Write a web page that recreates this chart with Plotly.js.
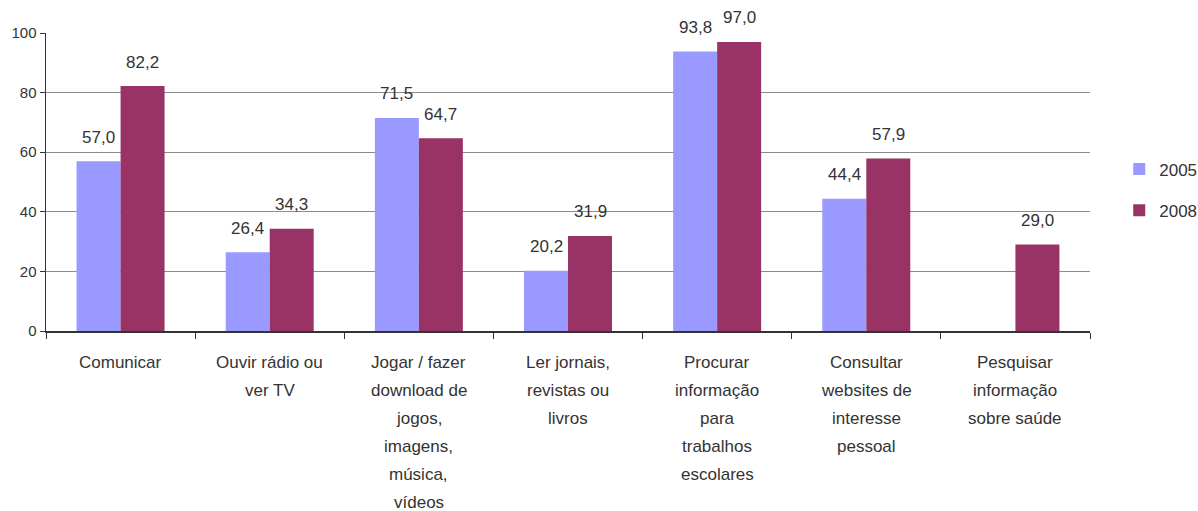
<!DOCTYPE html>
<html>
<head>
<meta charset="utf-8">
<script src="https://cdn.plot.ly/plotly-3.0.1.min.js"></script>
<style>html,body{margin:0;padding:0;background:#fff;}#chart{width:1198px;height:511px;}</style>
</head>
<body>
<div id="chart"></div>
<script>
const categories = [
  "Comunicar",
  "Ouvir rádio ou<br>ver TV",
  "Jogar / fazer<br>download de<br>jogos,<br>imagens,<br>música,<br>vídeos",
  "Ler jornais,<br>revistas ou<br>livros",
  "Procurar<br>informação<br>para<br>trabalhos<br>escolares",
  "Consultar<br>websites de<br>interesse<br>pessoal",
  "Pesquisar<br>informação<br>sobre saúde"
];
const keys = ["c0","c1","c2","c3","c4","c5","c6"];
const values2005 = [57.0, 26.4, 71.5, 20.2, 93.8, 44.4, null];
const values2008 = [82.2, 34.3, 64.7, 31.9, 97.0, 57.9, 29.0];
const yTicks = [0, 20, 40, 60, 80, 100];

const fmt = v => v.toFixed(1).replace('.', ',');
const FONT = "Liberation Sans, Arial, sans-serif";
const TXT = "#333333";

const traces = [
  {type:'bar', name:'2005', x:keys, y:values2005, marker:{color:'#9999FF'}, legendgroup:'a', hoverinfo:'none'},
  {type:'bar', name:'2008', x:keys, y:values2008, marker:{color:'#993366'}, legendgroup:'b', hoverinfo:'none'}
];

const annotations = [];
[[values2005, -22], [values2008, 22]].forEach(([vals, dx]) => {
  vals.forEach((v, i) => {
    if (v === null) return;
    annotations.push({x:keys[i], y:v, xref:'x', yref:'y', text:fmt(v), showarrow:false,
      xshift:dx, yshift:24, yanchor:'middle', font:{family:FONT, size:17, color:TXT}});
  });
});
categories.forEach((c, i) => {
  c.split('<br>').forEach((line, j) => {
    annotations.push({x:keys[i], y:0, xref:'x', yref:'paper', text:line, showarrow:false,
      yanchor:'middle', yshift:-(31 + j*28), font:{family:FONT, size:17, color:TXT}});
  });
});

const layout = {
  width:1198, height:511,
  margin:{l:46, r:108, t:33, b:180, pad:0, autoexpand:false},
  paper_bgcolor:'#fff', plot_bgcolor:'#fff',
  font:{family:FONT, size:14, color:TXT},
  barmode:'group', bargap:0.41, bargroupgap:0,
  showlegend:true,
  legend:{x:1.028, xanchor:'left', y:0.473, yanchor:'middle', traceorder:'grouped', tracegroupgap:16,
    font:{family:FONT, size:17, color:TXT}, bgcolor:'rgba(0,0,0,0)'},
  xaxis:{type:'category', showticklabels:false, tickson:'boundaries', ticks:'outside', ticklen:6,
    tickcolor:'#333', showline:true, linecolor:'#333', linewidth:1.5, showgrid:false,
    range:[-0.5, 6.5], fixedrange:true},
  yaxis:{range:[0,100], tickvals:yTicks, ticktext:yTicks.map(String), ticks:'outside', ticklen:5,
    tickcolor:'#333', showline:true, linecolor:'#333', linewidth:1.5, showgrid:true,
    gridcolor:'#8c8c8c', gridwidth:1, zeroline:false, tickfont:{family:FONT, size:15, color:TXT},
    fixedrange:true},
  annotations:annotations
};

Plotly.newPlot('chart', traces, layout, {displayModeBar:false, staticPlot:true});
</script>
</body>
</html>
